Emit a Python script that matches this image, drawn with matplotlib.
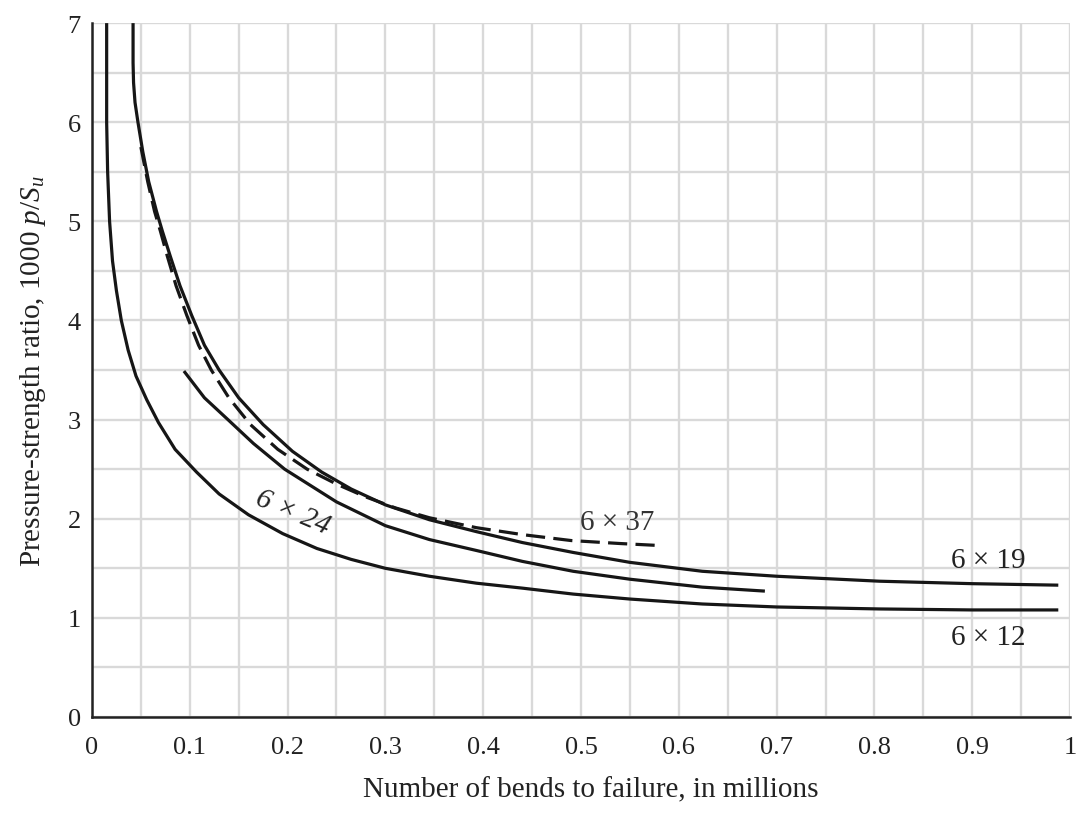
import numpy as np
import matplotlib.pyplot as plt

plt.rcParams['font.family'] = ['Liberation Serif', 'DejaVu Serif']
plt.rcParams['mathtext.fontset'] = 'custom'
plt.rcParams['mathtext.rm'] = 'Liberation Serif'
plt.rcParams['mathtext.it'] = 'Liberation Serif:italic'

# bends to failure (millions) vs pressure-strength ratio 1000 p/Su
x_6x12 = [0.015, 0.015, 0.015, 0.016, 0.018, 0.021, 0.025, 0.030, 0.037, 0.045,
          0.056, 0.068, 0.085, 0.107, 0.13, 0.16, 0.195, 0.23, 0.265, 0.30,
          0.345, 0.393, 0.44, 0.492, 0.55, 0.624, 0.70, 0.805, 0.90, 0.988]
y_6x12 = [7.0, 6.5, 6.0, 5.5, 5.0, 4.6, 4.3, 4.0, 3.7, 3.44,
          3.2, 2.97, 2.7, 2.47, 2.25, 2.04, 1.85, 1.7, 1.59, 1.5,
          1.42, 1.35, 1.3, 1.24, 1.19, 1.14, 1.11, 1.09, 1.08, 1.08]

x_6x19 = [0.042, 0.042, 0.0425, 0.044, 0.047, 0.052, 0.058, 0.066, 0.072, 0.080,
          0.090, 0.102, 0.115, 0.130, 0.150, 0.175, 0.205, 0.235, 0.265, 0.30,
          0.345, 0.393, 0.44, 0.492, 0.55, 0.624, 0.70, 0.805, 0.90, 0.988]
y_6x19 = [7.0, 6.6, 6.4, 6.2, 6.0, 5.7, 5.4, 5.1, 4.9, 4.65,
          4.35, 4.05, 3.75, 3.5, 3.22, 2.95, 2.68, 2.47, 2.3, 2.14,
          1.99, 1.87, 1.76, 1.66, 1.56, 1.47, 1.42, 1.37, 1.345, 1.33]

x_6x24 = [0.094, 0.115, 0.139, 0.165, 0.197, 0.25, 0.30, 0.345, 0.393, 0.44,
          0.492, 0.55, 0.624, 0.688]
y_6x24 = [3.49, 3.22, 3.0, 2.76, 2.5, 2.17, 1.93, 1.79, 1.68, 1.57,
          1.47, 1.39, 1.31, 1.27]

x_6x37 = [0.050, 0.057, 0.064, 0.070, 0.077, 0.086, 0.097, 0.109, 0.122, 0.140,
          0.162, 0.19, 0.22, 0.25, 0.28, 0.31, 0.345, 0.393, 0.44, 0.49,
          0.54, 0.58]
y_6x37 = [5.75, 5.4, 5.1, 4.9, 4.65, 4.35, 4.05, 3.75, 3.5, 3.22,
          2.95, 2.7, 2.5, 2.35, 2.22, 2.11, 2.01, 1.91, 1.84, 1.78,
          1.75, 1.73]

x_ticks = [0, 0.1, 0.2, 0.3, 0.4, 0.5, 0.6, 0.7, 0.8, 0.9, 1]
x_ticklabels = ['0', '0.1', '0.2', '0.3', '0.4', '0.5', '0.6', '0.7', '0.8', '0.9', '1']
y_ticks = [0, 1, 2, 3, 4, 5, 6, 7]

fig = plt.figure(figsize=(10.86, 8.29), dpi=100)
ax = fig.add_axes([0.0847, 0.1339, 0.9006, 0.837])

ink = '#161616'
lw = 2.3
for xs, ys in [(x_6x12, y_6x12), (x_6x19, y_6x19), (x_6x24, y_6x24)]:
    ax.plot(xs, ys, color=ink, lw=lw, solid_joinstyle='round', solid_capstyle='butt')
ax.plot(x_6x37, y_6x37, color=ink, lw=lw, dashes=(6, 2.6))

ax.set_xlim(0, 1)
ax.set_ylim(0, 7)
ax.set_xticks(x_ticks)
ax.set_xticklabels(x_ticklabels)
ax.set_yticks(y_ticks)
ax.set_xticks(np.arange(0, 1.001, 0.05), minor=True)
ax.set_yticks(np.arange(0, 7.001, 0.5), minor=True)
ax.grid(which='both', color='#d9d9d9', lw=1.7)
ax.set_axisbelow(True)
ax.tick_params(which='both', length=0, labelsize=19, colors='#222222')
ax.tick_params(axis='x', pad=14)
ax.tick_params(axis='y', pad=8)

for s in ['top', 'right']:
    ax.spines[s].set_visible(False)
for s in ['left', 'bottom']:
    ax.spines[s].set_linewidth(1.8)
    ax.spines[s].set_color('#222222')

ax.set_xlabel('Number of bends to failure, in millions', fontsize=21, labelpad=12,
              color='#222222')
ax.xaxis.set_label_coords(0.51, -0.085)
ax.set_ylabel(r'Pressure-strength ratio, 1000 $p/S_u$', fontsize=21, labelpad=14,
              color='#222222')

# curve labels
ax.text(0.537, 1.97, '6 × 37', fontsize=21, ha='center', va='center', color='#333333')
ax.text(0.916, 1.58, '6 × 19', fontsize=21, ha='center', va='center', color='#222222')
ax.text(0.916, 0.81, '6 × 12', fontsize=21, ha='center', va='center', color='#222222')
ax.text(0.205, 2.07, '6 × 24', fontsize=21, ha='center', va='center', color='#222222',
        rotation=-23, style='italic')

fig.savefig('out.png', dpi=100)
